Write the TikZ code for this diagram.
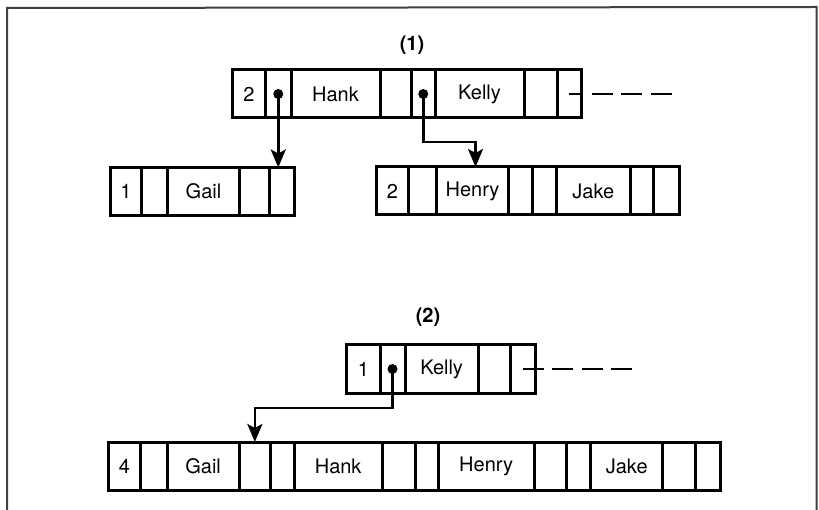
\documentclass[tikz,border=0pt]{standalone}
\usepackage{fontspec}
\setmainfont{TeX Gyre Heros}
\usetikzlibrary{arrows.meta}

\begin{document}
\begin{tikzpicture}[
  x=1pt, y=-1pt,
  font=\fontsize{20}{24}\selectfont,
  cell/.style={draw, line width=3pt, anchor=west, minimum height=48pt,
               inner sep=0pt, outer sep=0pt},
  link/.style={-{Stealth[length=18pt, width=15pt, inset=4pt]}, line width=2.7pt},
  tail/.style={line width=2.7pt, dash pattern=on 21pt off 8.5pt},
  heading/.style={font=\fontsize{20}{24}\selectfont\bfseries},
  frame/.style={line width=2pt, black!75},
]
\useasboundingbox (0,0) rectangle (819,510);
\draw[frame] (7,515) -- (7,8) -- (816.5,7) -- (816.5,515);

% (1) root and its two children
\node[heading] (lbl1) at (412,45) {(1)};
\foreach \xa/\xb/\t [count=\i] in {232.5/265.5/2, 265.5/291/{}, 291/380/Hank,
    380/411.5/{}, 411.5/435/{}, 435/524/Kelly, 524/557/{}, 557/581/{}}
  \node[cell, minimum width=\xb-\xa] (top\i) at (\xa,94) {\t};
\foreach \xa/\xb/\t [count=\i] in {110/141.7/1, 141.7/167.7/{}, 167.7/239.3/Gail,
    239.3/269.3/{}, 269.3/294/{}}
  \node[cell, minimum width=\xb-\xa] (left\i) at (\xa,191.5) {\t};
\foreach \xa/\xb/\t [count=\i] in {376.7/408.3/2, 408.3/436.7/{}, 436.7/508.3/Henry,
    508.3/532.7/{}, 532.7/556.7/{}, 556.7/630/Jake, 630/653.3/{}, 653.3/679.3/{}}
  \node[cell, minimum width=\xb-\xa] (right\i) at (\xa,191) {\t};

\fill (top2.center) circle (5);
\fill (top5.center) circle (5);
\draw[link] (top2.center) -- (top2.center |- left5.north);
\draw[link] (top5.center) -- ++(0,48) -| ([xshift=3pt]right3.north);
\coordinate (end1) at (673,94);
\draw[tail, dash phase=7pt] (top8.center) -- (end1);

% (2) after the merge
\node[heading] (lbl2) at (428,317) {(2)};
\foreach \xa/\xb/\t [count=\i] in {346.7/380/1, 380/405/{}, 405/478.3/Kelly,
    478.3/510/{}, 510/535/{}}
  \node[cell, minimum width=\xb-\xa] (newtop\i) at (\xa,369) {\t};
\foreach \xa/\xb/\t [count=\i] in {108.3/140.7/4, 140.7/167.3/{}, 167.3/239/Gail,
    239/270.7/{}, 270.7/294/{}, 294/382.3/Hank, 382.3/415/{}, 415/438.3/{},
    438.3/534/Henry, 534/566.7/{}, 566.7/590.7/{}, 590.7/662.7/Jake,
    662.7/695/{}, 695/720/{}}
  \node[cell, minimum width=\xb-\xa] (merged\i) at (\xa,466) {\t};

\fill (newtop2.center) circle (5);
\draw[link] (newtop2.center) -- ++(0,39) -| (merged4.north);
\coordinate (end2) at (635,369);
\draw[tail] (newtop5.center) -- (end2);
\end{tikzpicture}
\end{document}
